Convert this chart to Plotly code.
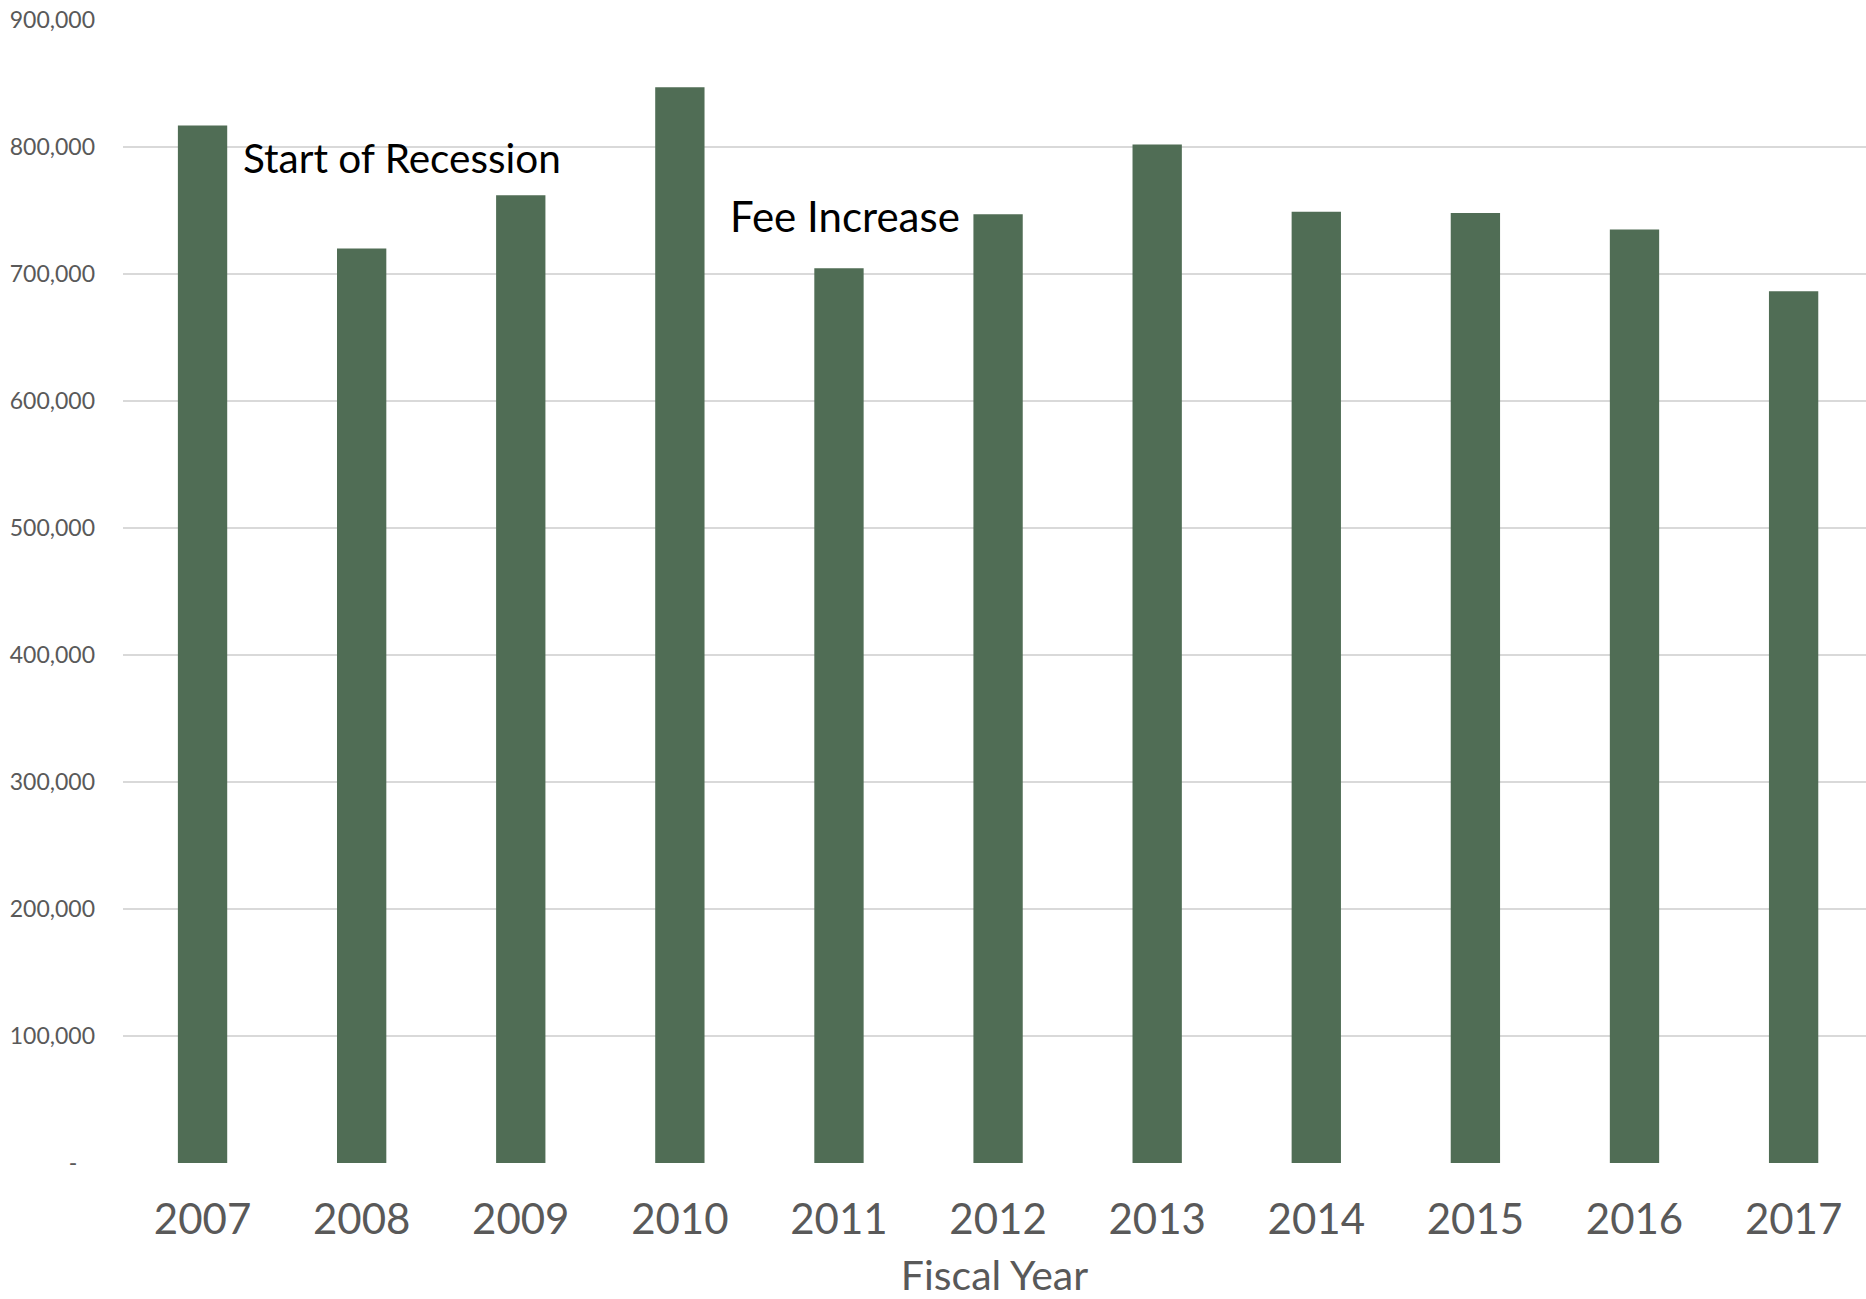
import plotly.graph_objects as go

years = ["2007", "2008", "2009", "2010", "2011", "2012", "2013", "2014", "2015", "2016", "2017"]
values = [817000, 720000, 762000, 847000, 704500, 747000, 802000, 749000, 748000, 735000, 686500]
ytick_vals = [0, 100000, 200000, 300000, 400000, 500000, 600000, 700000, 800000, 900000]
ytick_text = ["-\u00a0\u00a0\u00a0", "100,000", "200,000", "300,000", "400,000", "500,000",
              "600,000", "700,000", "800,000", "900,000"]
notes = ["Start of Recession", "Fee Increase"]
note_x = [0.24, 3.305]
note_y = [792000, 745500]

FONT = "Century Gothic, Lato, sans-serif"
GRAY = "#595959"

fig = go.Figure()
fig.add_trace(go.Bar(
    x=years, y=values,
    marker=dict(color="#506D55", line=dict(width=0)),
    hoverinfo="skip",
))

for t, x, y, s in zip(notes, note_x, note_y, [40.5, 42]):
    fig.add_annotation(
        x=x, y=y, xref="x", yref="y", text=t, showarrow=False,
        xanchor="left", yanchor="middle",
        font=dict(family=FONT, size=s, color="#000000"),
    )

fig.update_layout(
    width=1866, height=1299,
    margin=dict(l=123, r=0, t=20, b=136),
    paper_bgcolor="white", plot_bgcolor="white",
    bargap=0.69,
    showlegend=False,
    font=dict(family=FONT, color=GRAY),
)
fig.update_xaxes(
    type="category",
    range=[-0.5, 10.455],
    showgrid=False, zeroline=False, showline=False,
    ticks="", ticklabelstandoff=28,
    tickfont=dict(family=FONT, size=42, color=GRAY),
    title=dict(text="Fiscal Year", font=dict(family=FONT, size=41, color=GRAY), standoff=20),
)
fig.update_yaxes(
    range=[0, 900000],
    tickvals=ytick_vals, ticktext=ytick_text,
    showgrid=True, gridcolor="#D9D9D9", gridwidth=2,
    zeroline=False, showline=False,
    ticks="", ticklabelstandoff=27,
    tickfont=dict(family=FONT, size=23, color=GRAY),
)

fig.write_html("out.html", config={"displayModeBar": False},
               post_script="document.body.style.margin='0';")
